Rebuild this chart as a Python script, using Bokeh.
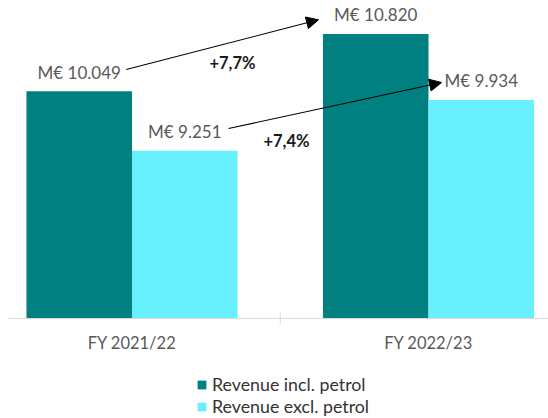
from bokeh.plotting import figure
from bokeh.models import (ColumnDataSource, Range1d, LabelSet, Label,
                          Arrow, NormalHead, Legend, LegendItem)
from bokeh.core.properties import value
from bokeh.transform import dodge
from bokeh.embed import file_html
from bokeh.resources import INLINE

# ---- data ----
categories = ["FY 2021/22", "FY 2022/23"]
series = ["Revenue incl. petrol", "Revenue excl. petrol"]
incl_petrol = [10049, 10820]
excl_petrol = [9251, 9934]
label_incl = ["M€ 10.049", "M€ 10.820"]
label_excl = ["M€ 9.251", "M€ 9.934"]
growth_labels = ["+7,7%", "+7,4%"]

# ---- style ----
FONT = "Lato"
TEAL = "#008080"
CYAN = "#69F0FF"
GRID = "#d9d9d9"
Y_MIN = 7000          # value axis starts here (baseline)
OFF = 0.178
BAR_W = 0.356

xs = list(range(len(categories)))
src_incl = ColumnDataSource(dict(x=xs, top=incl_petrol, label=label_incl))
src_excl = ColumnDataSource(dict(x=xs, top=excl_petrol, label=label_excl))
src_cat = ColumnDataSource(dict(x=xs, y=[Y_MIN] * len(xs), label=categories))

X0, X1 = -0.4435, 1.4047
p = figure(width=548, height=418, output_backend="svg", toolbar_location=None,
           x_range=Range1d(X0, X1), y_range=Range1d(5658, 11268),
           x_axis_location=None, y_axis_location=None,
           min_border_left=0, min_border_right=0, min_border_top=0,
           min_border_bottom=0)
p.outline_line_color = None
p.grid.visible = False
p.background_fill_color = "white"

r1 = p.vbar(x=dodge("x", -OFF, range=p.x_range), top="top", bottom=Y_MIN,
            width=BAR_W, source=src_incl, fill_color=TEAL, line_color=None)
r2 = p.vbar(x=dodge("x", OFF, range=p.x_range), top="top", bottom=Y_MIN,
            width=BAR_W, source=src_excl, fill_color=CYAN, line_color=None)

# category axis line, divider tick and labels
p.segment(x0=[-0.4165], y0=[Y_MIN], x1=[X1], y1=[Y_MIN], line_color=GRID, line_width=1)
p.segment(x0=[0.5], y0=[Y_MIN - 67], x1=[0.5], y1=[Y_MIN + 81], line_color=GRID, line_width=1)
p.add_layout(LabelSet(x="x", y="y", text="label", source=src_cat, y_offset=-24.5,
                      text_align="center", text_baseline="middle",
                      text_font=value(FONT), text_font_size="16.5px",
                      text_color="#595959"))

for src, off in ((src_incl, -OFF), (src_excl, OFF)):
    p.add_layout(LabelSet(x=dodge("x", off, range=p.x_range), y="top", text="label",
                          source=src, y_offset=19, text_align="center",
                          text_baseline="middle", text_font=value(FONT),
                          text_font_size="17px", text_color="#595959"))

# growth annotations
growth_pos = [(0.339, 10429), (0.521, 9389)]
for (gx, gy), txt in zip(growth_pos, growth_labels):
    p.add_layout(Label(x=gx, y=gy, text=txt, text_align="center",
                       text_baseline="middle", text_font=FONT,
                       text_font_size="16.5px", text_font_style="bold",
                       text_color="#1a1a1a"))

arrows = [(-0.0196, 10342, 0.629, 11009), (0.3255, 9550, 1.044, 10167)]
for xs0, ys0, xe, ye in arrows:
    p.add_layout(Arrow(end=NormalHead(size=12, fill_color="black", line_color="black"),
                       x_start=xs0, y_start=ys0, x_end=xe, y_end=ye,
                       line_color="black", line_width=1.1))

legend = Legend(items=[LegendItem(label=series[0], renderers=[r1]),
                       LegendItem(label=series[1], renderers=[r2])],
                location=(196, 1), orientation="vertical",
                background_fill_alpha=0, border_line_color=None,
                padding=0, margin=0, spacing=0, label_standoff=5,
                glyph_width=11, glyph_height=11, label_height=20,
                label_text_font=FONT, label_text_font_size="17.8px",
                label_text_color="#333333")
p.add_layout(legend, "center")

open("out.html", "w").write(file_html(p, INLINE))
